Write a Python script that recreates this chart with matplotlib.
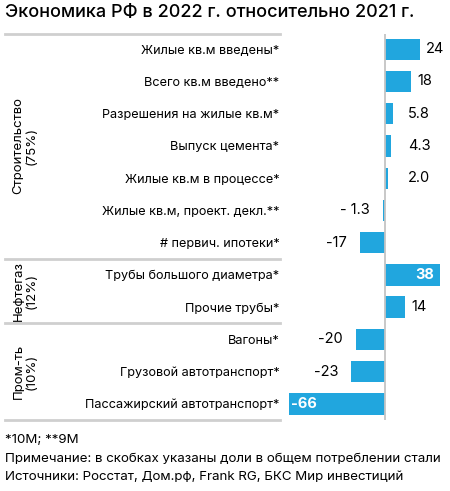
import matplotlib.pyplot as plt
from matplotlib.transforms import blended_transform_factory

# data
categories = ["Жилые кв.м введены*", "Всего кв.м введено**", "Разрешения на жилые кв.м*",
              "Выпуск цемента*", "Жилые кв.м в процессе*", "Жилые кв.м, проект. декл.**",
              "# первич. ипотеки*", "Трубы большого диаметра*", "Прочие трубы*",
              "Вагоны*", "Грузовой автотранспорт*", "Пассажирский автотранспорт*"]
values = [24, 18, 5.8, 4.3, 2.0, -1.3, -17, 38, 14, -20, -23, -66]
value_labels = ["24", "18", "5.8", "4.3", "2.0", "- 1.3", "-17", "38", "14", "-20", "-23", "-66"]
groups = ["Строительство\n(75%)", "Нефтегаз\n(12%)", "Пром-ть\n(10%)"]
group_rows = [(0, 6), (7, 8), (9, 11)]

W, H = 450, 491
blue = "#21a6de"
grey = "#cfcfcf"
plt.rcParams['font.family'] = ['Inter', 'DejaVu Sans']

fig = plt.figure(figsize=(W / 100, H / 100), dpi=100)
ax = fig.add_axes([285 / W, 1 - 420 / H, 165 / W, 386 / H])

y = list(range(len(values)))
ax.barh(y, values, height=0.66, color=blue)
ax.set_ylim(11.5, -0.47)
ax.set_xlim(-68.7, 44.7)
ax.axvline(0, color="#c4c4c4", lw=1.3)
for s in ax.spines.values():
    s.set_visible(False)
ax.set_xticks([])
ax.set_yticks(y)
ax.set_yticklabels(categories, fontsize=9.1)
ax.tick_params(axis='y', length=0, pad=4)

# value labels
for i, (v, t) in enumerate(zip(values, value_labels)):
    if v == 38:
        ax.text(v - 4, i, t, ha='right', va='center', color='white', fontsize=10.5, fontweight='bold')
    elif v == -66:
        ax.text(v + 1.5, i, t, ha='left', va='center', color='white', fontsize=10.5, fontweight='bold')
    elif v > 0:
        ax.text(max(v + 4, 16), i, t, ha='left', va='center', fontsize=10.5)
    else:
        ax.text(v - 9, i, t, ha='right', va='center', fontsize=10.5)

# separators
tr = blended_transform_factory(fig.transFigure, ax.transData)
for yy in [-0.47, 6.5, 8.5, 11.5]:
    ax.plot([5 / W, 280 / W], [yy, yy], transform=tr, color=grey, lw=2, clip_on=False)

for g, (a, b) in zip(groups, group_rows):
    ax.text(25 / W, (a + b) / 2, g, transform=tr, rotation=90, ha='center', va='center',
            fontsize=9.5, linespacing=1.1)

fig.text(5 / W, 1 - 13 / H, "Экономика РФ в 2022 г. относительно 2021 г.", fontsize=13,
         fontweight='medium', va='center', ha='left')
fig.text(5 / W, 1 - 440 / H, "*10M; **9M", fontsize=9.6, va='center')
fig.text(5 / W, 1 - 459 / H, "Примечание: в скобках указаны доли в общем потреблении стали", fontsize=9.6, va='center')
fig.text(5 / W, 1 - 477 / H, "Источники: Росстат, Дом.рф, Frank RG, БКС Мир инвестиций", fontsize=9.6, va='center')

fig.savefig("out.png", dpi=100)
